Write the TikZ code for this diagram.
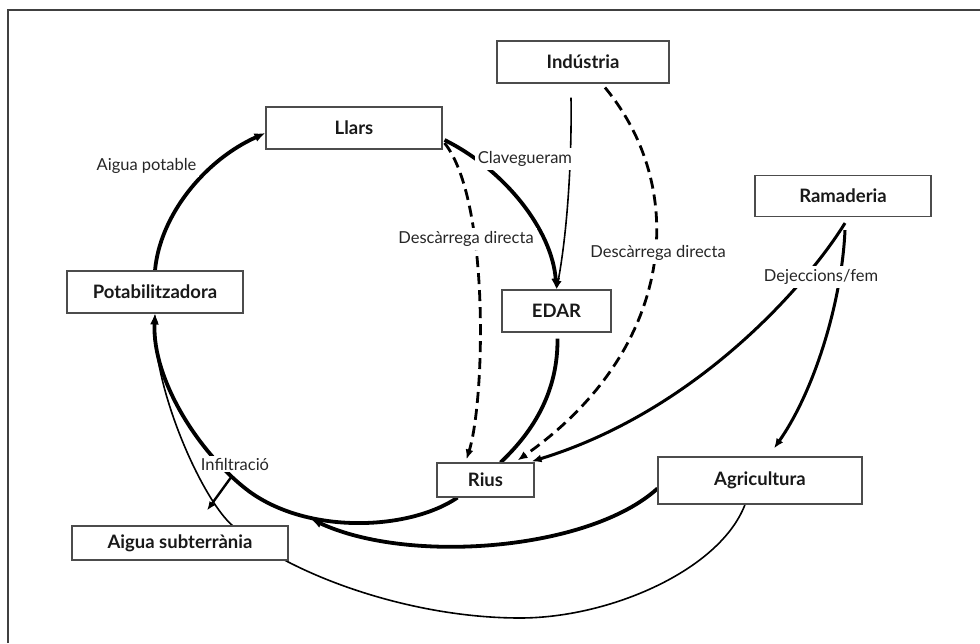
\documentclass[tikz,border=0pt]{standalone}
\usepackage{fontspec}
\setmainfont{Lato}
\usetikzlibrary{arrows.meta,calc,backgrounds}
\begin{document}
\begin{tikzpicture}[x=1pt,y=-1pt,
  box/.style={draw=black!70,line width=1.1pt,fill=white,inner sep=0pt,text=black!90,
    font=\fontsize{18.5}{20}\selectfont\bfseries},
  lbl/.style={fill=white,inner sep=3pt,text=black!85,font=\fontsize{16.5}{19}\selectfont},
  frameline/.style={draw=black!75,line width=2pt},
  thickc/.style={line width=3.8pt,-{Latex[length=11pt,width=9pt]}},
  thickplain/.style={line width=3.8pt},
  medc/.style={line width=3pt,-{Latex[length=10pt,width=8pt]}},
  dashc/.style={line width=2.8pt,dash pattern=on 11pt off 6pt,-{Latex[length=10pt,width=8pt]}},
  thinc/.style={line width=1.6pt,-{Latex[length=9pt,width=7pt]}},
  infc/.style={line width=2.4pt,-{Latex[length=9pt,width=7pt]}}]
\useasboundingbox (0,0) rectangle (980,643);

% boxes
\node[box,minimum width=176pt,minimum height=42pt] (llars) at (354,128) {Llars};
\node[box,minimum width=172pt,minimum height=42pt] (ind) at (583,62) {Indústria};
\node[box,minimum width=176pt,minimum height=41pt] (ram) at (843,196) {Ramaderia};
\node[box,minimum width=176pt,minimum height=42pt] (pota) at (155,292) {Potabilitzadora};
\node[box,minimum width=109pt,minimum height=42pt] (edar) at (556.5,311) {EDAR};
\node[box,minimum width=97pt,minimum height=34pt] (rius) at (485.5,480) {Rius};
\node[box,minimum width=204pt,minimum height=47pt] (agri) at (760,480.5) {Agricultura};
\node[box,minimum width=216pt,minimum height=34pt] (aigua) at (180,543) {Aigua subterrània};

% labels
\node[lbl] (lap) at (146.5,166) {Aigua potable};
\node[lbl] (lclav) at (525,159) {Clavegueram};
\node[lbl] (ldd1) at (466,239) {Descàrrega directa};
\node[lbl] (ldd2) at (658,253) {Descàrrega directa};
\node[lbl] (ldej) at (821,277) {Dejeccions/fem};
\node[lbl,inner sep=2pt] (inf) at (235,464) {Infiltració};

\coordinate (jn) at (311,519);

\begin{pgfonlayer}{background}
\draw[frameline] (8,643) -- (8,10) -- (980,10);

% Potabilitzadora -> Llars
\draw[thickc] (pota.north) .. controls (160,215) and (205,160) .. ($(llars.west)+(0,5)$);
% Llars -> EDAR
\draw[thickc] ($(llars.east)+(2,12)$) .. controls (505,170) and (552,230) .. (edar.north);
% Industria -> EDAR
\draw[thinc] ($(ind.south)+(-12,14)$) .. controls (572,170) and (566,240) .. (edar.north);
% Llars -> Rius (dashed)
\draw[dashc] ($(llars.east)+(2,15)$) .. controls (490,200) and (485,400) .. ($(rius.north)+(-19,-3)$);
% Industria -> Rius (dashed)
\draw[dashc] ($(ind.south)+(22,4)$) .. controls (690,190) and (675,350) .. ($(rius.north)+(32,-2)$);
% Ramaderia -> Rius
\draw[medc] ($(ram.south)+(2,6)$) .. controls (810,280) and (700,410) .. ($(rius.north east)+(-3,-1)$);
% Ramaderia -> Agricultura
\draw[medc] ($(ram.south)+(2,13)$) .. controls (842,300) and (815,390) .. ($(agri.north)+(14,-8)$);
% EDAR -> Rius
\draw[thickplain] ($(edar.south)+(1,6)$) .. controls (558,390) and (535,430) .. ($(rius.north)+(15,0)$);
% Rius -> Potabilitzadora
\draw[thickc] ($(rius.south)+(-28,0)$) .. controls (410,530) and (310,535) .. (250,492)
   .. controls (200,455) and (152,380) .. (pota.south);
% Agricultura -> junction
\draw[thickc] ($(agri.west)+(0,8)$) .. controls (590,550) and (410,565) .. (jn);
% Infiltracio
\draw[infc] ($(inf.south)+(-4,5)$) -- ($(aigua.north)+(27,-15)$);
% Agricultura -> Potabilitzadora (thin, behind Aigua subterrania)
\draw[thinc] ($(agri.south)+(-15,0)$) .. controls (720,570) and (610,618) .. (520,618)
   .. controls (410,618) and (290,575) .. (233,526)
   .. controls (203,501) and (153,390) .. (pota.south);
\end{pgfonlayer}
\end{tikzpicture}
\end{document}
